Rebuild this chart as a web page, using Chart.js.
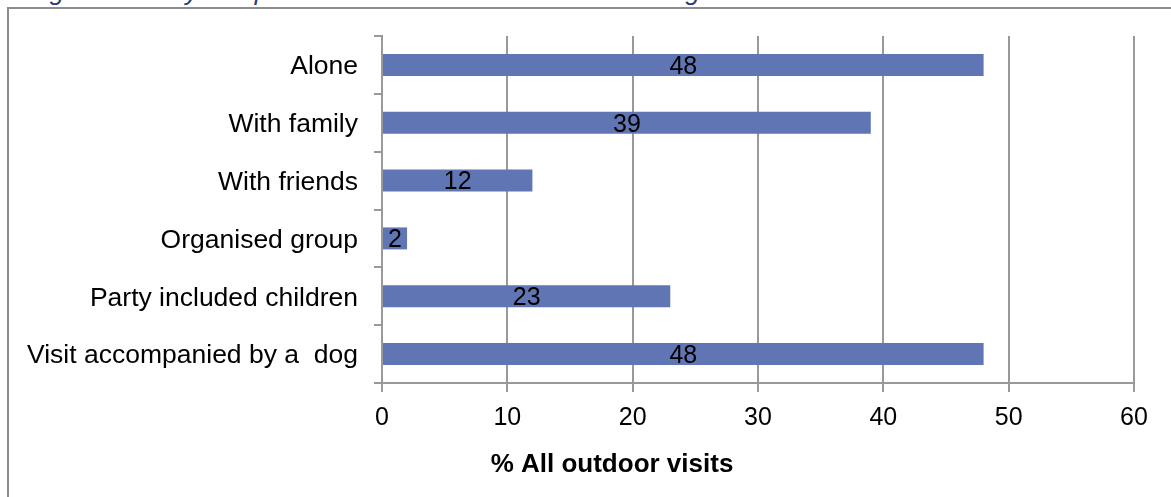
<!DOCTYPE html>
<html>
<head>
<meta charset="utf-8">
<script src="https://cdn.jsdelivr.net/npm/chart.js@4/dist/chart.umd.min.js"></script>
<style>
    html, body { margin: 0; padding: 0; background: #fff; overflow: hidden; }
    #page { position: relative; width: 1171px; height: 497px; overflow: hidden; }
    #caption {
        position: absolute; left: 28px; top: -24px; white-space: nowrap;
        font: italic 26px "Liberation Sans", Arial, sans-serif; color: #2b3a78;
    }
    #frame {
        position: absolute; left: 7px; top: 7px; width: 1200px; height: 520px;
        border-left: 2px solid #8c8c8c; border-top: 2px solid #8c8c8c;
    }
    #chart-visites { position: absolute; left: 0; top: 0; }
</style>
</head>
<body>
<div id="page">
    <div id="caption">Figure 5: Party composition of visits to the outdoors in England</div>
    <div id="frame"></div>
    <canvas id="chart-visites" width="1171" height="497"></canvas>
</div>
<script>
const categories = [
    "Alone",
    "With family",
    "With friends",
    "Organised group",
    "Party included children",
    "Visit accompanied by a  dog"
];
const pourcentages = [48, 39, 12, 2, 23, 48];
const ticksX = [0, 10, 20, 30, 40, 50, 60];
const titreX = "% All outdoor visits";

const couleurBarre = "#6076b4";
const couleurAxe = "#999999";
const police = "'Liberation Sans', Arial, sans-serif";

// écrit la valeur au centre de chaque barre
const etiquettesBarres = {
    id: "etiquettesBarres",
    afterDatasetsDraw(chart) {
        const ctx = chart.ctx;
        const meta = chart.getDatasetMeta(0);
        ctx.save();
        ctx.font = "25px " + police;
        ctx.fillStyle = "#000";
        ctx.textAlign = "center";
        ctx.textBaseline = "middle";
        meta.data.forEach((bar, i) => {
            const milieu = (bar.x + bar.base) / 2;
            ctx.fillText(String(pourcentages[i]), milieu, bar.y + 2);
        });
        ctx.restore();
    }
};

// titre de l'axe X, décalé vers la gauche comme dans le graphique Excel
const titreAxeX = {
    id: "titreAxeX",
    afterDraw(chart) {
        const ctx = chart.ctx;
        const echelle = chart.scales.x;
        ctx.save();
        ctx.font = "bold 26px " + police;
        ctx.fillStyle = "#000";
        ctx.textAlign = "center";
        ctx.textBaseline = "middle";
        ctx.fillText(titreX, echelle.left + 230, echelle.bottom - 32);
        ctx.restore();
    }
};

new Chart(document.getElementById("chart-visites"), {
    type: "bar",
    data: {
        labels: categories,
        datasets: [{
            data: pourcentages,
            backgroundColor: couleurBarre,
            borderWidth: 0,
            barPercentage: 0.76,
            categoryPercentage: 0.5
        }]
    },
    options: {
        indexAxis: "y",
        responsive: false,
        animation: false,
        events: [],
        layout: { padding: { top: 36, right: 37, left: 0, bottom: 0 } },
        plugins: { legend: { display: false }, tooltip: { enabled: false } },
        scales: {
            x: {
                min: 0,
                max: 60,
                afterBuildTicks(scale) {
                    scale.ticks = ticksX.map(v => ({ value: v }));
                },
                afterFit(scale) { scale.height = 114; },
                grid: { color: couleurAxe, lineWidth: 2, tickLength: 9 },
                border: { color: couleurAxe, width: 2 },
                ticks: {
                    color: "#000",
                    padding: 11,
                    maxRotation: 0,
                    font: { size: 25, family: police }
                }
            },
            y: {
                afterFit(scale) { scale.width = 382; },
                grid: {
                    offset: true,
                    drawOnChartArea: false,
                    color: couleurAxe,
                    lineWidth: 2,
                    tickLength: 8
                },
                border: { color: couleurAxe, width: 2 },
                ticks: {
                    color: "#000",
                    padding: 16,
                    labelOffset: 2,
                    font: { size: 26.5, family: police }
                }
            }
        }
    },
    plugins: [etiquettesBarres, titreAxeX]
});
</script>
</body>
</html>
